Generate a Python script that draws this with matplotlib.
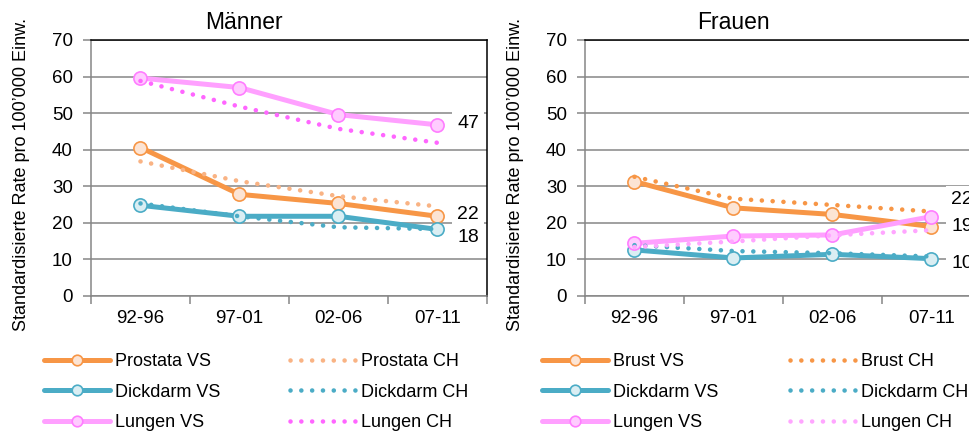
import numpy as np
import matplotlib
matplotlib.use('Agg')
import matplotlib.pyplot as plt

plt.rcParams['font.family'] = ['Liberation Sans', 'DejaVu Sans']

# Perioden
perioden = ['92-96', '97-01', '02-06', '07-11']

# Männer (Rate pro 100'000)
prostata_vs = [40.6, 27.8, 25.3, 21.8]
prostata_ch = [36.8, 31.4, 27.3, 24.5]
dickdarm_m_vs = [24.8, 21.8, 21.8, 18.2]
dickdarm_m_ch = [25.3, 21.8, 18.8, 18.3]
lungen_m_vs = [59.6, 57.0, 49.6, 46.8]
lungen_m_ch = [58.8, 51.8, 45.7, 41.9]

# Frauen
brust_vs = [31.3, 24.1, 22.3, 19.0]
brust_ch = [32.6, 26.6, 24.9, 23.1]
dickdarm_f_vs = [12.6, 10.4, 11.4, 10.2]
dickdarm_f_ch = [13.9, 12.3, 11.7, 10.8]
lungen_f_vs = [14.4, 16.4, 16.7, 21.7]
lungen_f_ch = [13.4, 14.9, 16.6, 18.0]

# Farben
orange = '#F79646'
blau = '#4BACC6'
rosa = '#FFA0FF'

W, H = 970, 432
fig = plt.figure(figsize=(W / 100, H / 100), dpi=100)

ylabel = 'Standardisierte Rate pro 100’000 Einw.'
grau = '#868686'


def panel(ax, titel, vs_reihen, ch_reihen, lbl_y, titel_x, leg_x):
    x = np.arange(len(perioden))
    vs_lines = []
    ch_lines = []
    for name, werte, farbe, rand, fuell in vs_reihen:
        l, = ax.plot(x, werte, color=farbe, lw=3.6, marker='o', ms=9.5,
                     mfc=fuell, mec=rand, mew=1.2, solid_capstyle='round',
                     zorder=3, label=name + ' VS')
        vs_lines.append(l)
    for name, werte, farbe in ch_reihen:
        l, = ax.plot(x, werte, color=farbe, lw=3.3, ls=(0, (0.01, 2.35)),
                     dash_capstyle='round', zorder=4, label=name + ' CH')
        ch_lines.append(l)

    # Endwerte als Beschriftung
    for (name, werte, farbe, rand, fuell), yy in zip(vs_reihen, lbl_y):
        ax.text(3.2, yy, f'{round(werte[-1])}', ha='left', va='center',
                fontsize=14, zorder=5,
                bbox=dict(fc='white', ec='none', pad=3.5))

    ax.set_xlim(-0.5, 3.5)
    ax.set_ylim(0, 70)
    ax.set_yticks(range(0, 80, 10))
    ax.set_xticks(np.arange(-0.5, 4, 1))
    ax.set_xticklabels([])
    ax.set_xticks(x, minor=True)
    ax.set_xticklabels(perioden, minor=True)
    ax.tick_params(axis='x', which='major', length=6, color=grau, width=1.1)
    ax.tick_params(axis='x', which='minor', length=0, pad=10, labelsize=13.5)
    ax.tick_params(axis='y', length=6, color=grau, width=1.1, pad=7,
                   labelsize=13.5)
    ax.yaxis.grid(True, color=grau, lw=1.1)
    ax.set_axisbelow(True)
    for s in ['left', 'bottom']:
        ax.spines[s].set_color(grau)
        ax.spines[s].set_linewidth(1.1)
    for s in ['top', 'right']:
        ax.spines[s].set_color('black')
        ax.spines[s].set_linewidth(1.1)

    ax.set_ylabel(ylabel, fontsize=13)
    ax.yaxis.set_label_coords(-0.154, 0.473)
    ax.text(titel_x, 1.07, titel, transform=ax.transAxes, ha='center',
            va='center', fontsize=16.5)

    # Legende in zwei Spalten
    for handles, lx in zip([vs_lines, ch_lines], leg_x):
        fig.legend(handles=handles, loc='upper left',
                   bbox_to_anchor=(lx / W, 1 - 353 / H), frameon=False,
                   fontsize=13, handlelength=3.67, handletextpad=0.28,
                   labelspacing=0.75, borderpad=0, borderaxespad=0,
                   markerscale=0.8)


ax_m = fig.add_axes([91 / W, 136 / H, 396 / W, 256 / H])
ax_f = fig.add_axes([585 / W, 136 / H, 396 / W, 256 / H])

panel(ax_m, 'Männer',
      [('Prostata', prostata_vs, orange, orange, '#FCE4D4'),
       ('Dickdarm', dickdarm_m_vs, blau, blau, '#DAEEF3'),
       ('Lungen', lungen_m_vs, rosa, '#FF7DFF', '#FFCCFF')],
      [('Prostata', prostata_ch, '#F9B384'),
       ('Dickdarm', dickdarm_m_ch, blau),
       ('Lungen', lungen_m_ch, '#FF66FF')],
      [22.4, 16.1, 47.3], 0.386, [44, 290])

panel(ax_f, 'Frauen',
      [('Brust', brust_vs, orange, orange, '#FCE4D4'),
       ('Dickdarm', dickdarm_f_vs, blau, blau, '#DAEEF3'),
       ('Lungen', lungen_f_vs, rosa, '#FF7DFF', '#FFCCFF')],
      [('Brust', brust_ch, orange),
       ('Dickdarm', dickdarm_f_ch, blau),
       ('Lungen', lungen_f_ch, '#FFA6FF')],
      [19.1, 9.0, 26.5], 0.374, [542, 790])

fig.savefig('out.png', dpi=100)
